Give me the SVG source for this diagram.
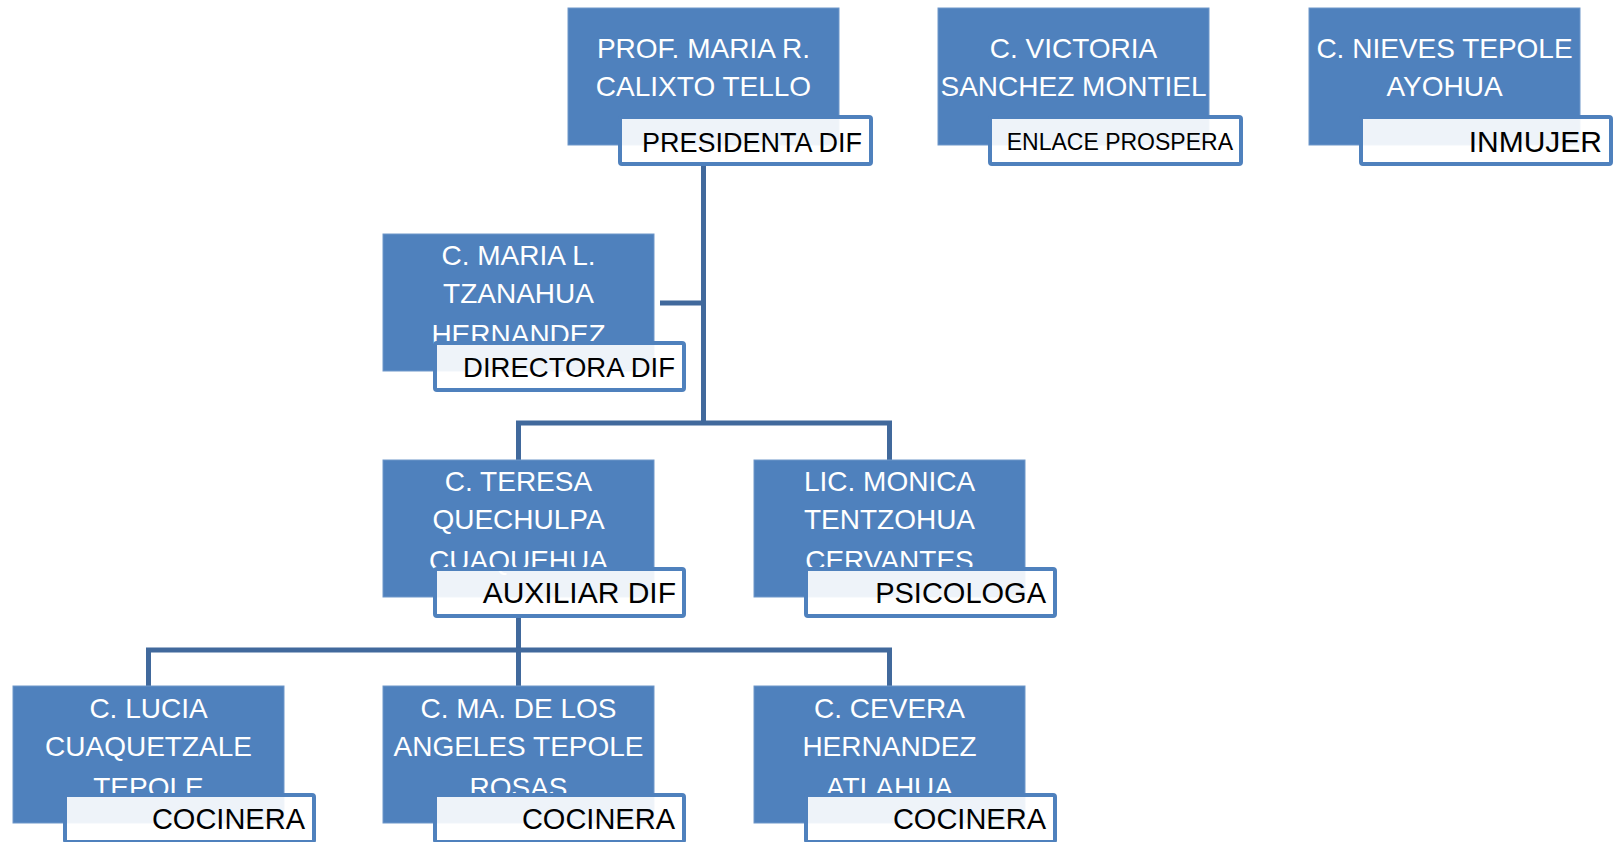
<svg xmlns="http://www.w3.org/2000/svg" width="1613" height="842" viewBox="0 0 1613 842">
<style>
.box{fill:#4F81BD;stroke:#6F97CA;stroke-width:1}
.lbl{fill:#FFFFFF;fill-opacity:0.9;stroke:#4F81BD;stroke-width:4}
.name{font-family:"Liberation Sans",Arial,sans-serif;font-size:28px;fill:#FFFFFF;text-anchor:middle}
.role{font-family:"Liberation Sans",Arial,sans-serif;font-size:28px;fill:#000000;text-anchor:end}
.conn{fill:none;stroke:#41699C;stroke-width:5;stroke-linejoin:miter}
</style>
<rect width="1613" height="842" fill="#FFFFFF"/>
<g id="connectors">
<path class="conn" d="M703.5 163 V423"/>
<path class="conn" d="M660 303 H703.5"/>
<path class="conn" d="M518.5 460 V423 H889.5 V460"/>
<path class="conn" d="M518.5 615 V686"/>
<path class="conn" d="M148.5 686 V650 H889.5 V686"/>
</g>
<g id="presidenta">
<rect class="box" x="568" y="8" width="271" height="137"/>
<text class="name" x="703.5" y="58">PROF. MARIA R.</text>
<text class="name" x="703.5" y="96">CALIXTO TELLO</text>
<rect class="lbl" x="620" y="117" width="251" height="47" rx="2"/>
<text class="role" x="862" y="152" style="font-size:27px">PRESIDENTA DIF</text>
</g>
<g id="enlace">
<rect class="box" x="938" y="8" width="271" height="137"/>
<text class="name" x="1073.5" y="58">C. VICTORIA</text>
<text class="name" x="1073.5" y="96">SANCHEZ MONTIEL</text>
<rect class="lbl" x="990" y="117" width="251" height="47" rx="2"/>
<text class="role" x="1233" y="150" style="font-size:23px">ENLACE PROSPERA</text>
</g>
<g id="inmujer">
<rect class="box" x="1309" y="8" width="271" height="137"/>
<text class="name" x="1444.5" y="58">C. NIEVES TEPOLE</text>
<text class="name" x="1444.5" y="96">AYOHUA</text>
<rect class="lbl" x="1361" y="117" width="250" height="47" rx="2"/>
<text class="role" x="1602" y="152" style="font-size:30px">INMUJER</text>
</g>
<g id="directora">
<rect class="box" x="383" y="234" width="271" height="137"/>
<text class="name" x="518.5" y="265">C. MARIA L.</text>
<text class="name" x="518.5" y="303">TZANAHUA</text>
<text class="name" x="518.5" y="344">HERNANDEZ</text>
<rect class="lbl" x="435" y="343" width="249" height="47" rx="2"/>
<text class="role" x="675" y="377" style="font-size:27.5px">DIRECTORA DIF</text>
</g>
<g id="auxiliar">
<rect class="box" x="383" y="460" width="271" height="137"/>
<text class="name" x="518.5" y="491">C. TERESA</text>
<text class="name" x="518.5" y="529">QUECHULPA</text>
<text class="name" x="518.5" y="570">CUAQUEHUA</text>
<rect class="lbl" x="435" y="569" width="249" height="47" rx="2"/>
<text class="role" x="676" y="603" style="font-size:30px">AUXILIAR DIF</text>
</g>
<g id="psicologa">
<rect class="box" x="754" y="460" width="271" height="137"/>
<text class="name" x="889.5" y="491">LIC. MONICA</text>
<text class="name" x="889.5" y="529">TENTZOHUA</text>
<text class="name" x="889.5" y="570">CERVANTES</text>
<rect class="lbl" x="806" y="569" width="249" height="47" rx="2"/>
<text class="role" x="1046" y="603" style="font-size:29px">PSICOLOGA</text>
</g>
<g id="cocinera1">
<rect class="box" x="13" y="686" width="271" height="137"/>
<text class="name" x="148.5" y="718">C. LUCIA</text>
<text class="name" x="148.5" y="756">CUAQUETZALE</text>
<text class="name" x="148.5" y="797">TEPOLE</text>
<rect class="lbl" x="65" y="795" width="249" height="47" rx="2"/>
<text class="role" x="305" y="829" style="font-size:29px">COCINERA</text>
</g>
<g id="cocinera2">
<rect class="box" x="383" y="686" width="271" height="137"/>
<text class="name" x="518.5" y="718">C. MA. DE LOS</text>
<text class="name" x="518.5" y="756">ANGELES TEPOLE</text>
<text class="name" x="518.5" y="797">ROSAS</text>
<rect class="lbl" x="435" y="795" width="249" height="47" rx="2"/>
<text class="role" x="675" y="829" style="font-size:29px">COCINERA</text>
</g>
<g id="cocinera3">
<rect class="box" x="754" y="686" width="271" height="137"/>
<text class="name" x="889.5" y="718">C. CEVERA</text>
<text class="name" x="889.5" y="756">HERNANDEZ</text>
<text class="name" x="889.5" y="797">ATLAHUA</text>
<rect class="lbl" x="806" y="795" width="249" height="47" rx="2"/>
<text class="role" x="1046" y="829" style="font-size:29px">COCINERA</text>
</g>
</svg>
